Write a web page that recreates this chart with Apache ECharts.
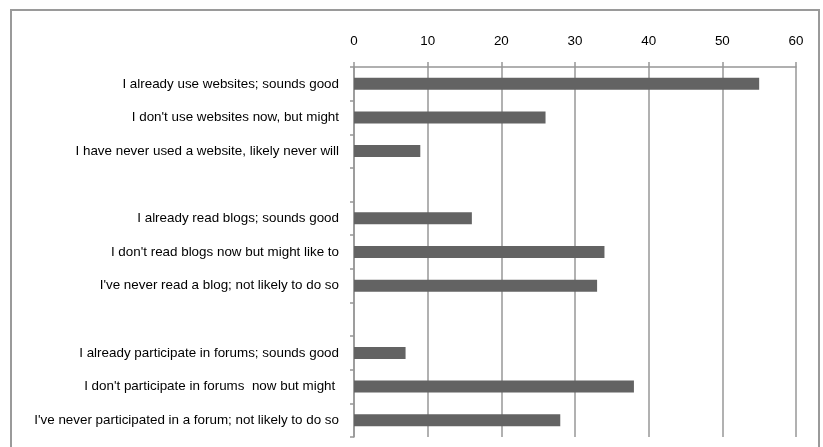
<!DOCTYPE html>
<html>
<head>
<meta charset="utf-8">
<script src="https://cdn.jsdelivr.net/npm/echarts@6/dist/echarts.min.js"></script>
<style>
  html, body { margin: 0; padding: 0; background: #fff; }
  #chart { width: 823px; height: 447px; }
</style>
</head>
<body>
<div id="chart"></div>
<script>
// survey answers, blank rows separate the three groups
const categories = [
    'I already use websites; sounds good',
    "I don't use websites now, but might",
    'I have never used a website, likely never will',
    ' ',
    'I already read blogs; sounds good',
    "I don't read blogs now but might like to",
    "I've never read a blog; not likely to do so",
    '  ',
    'I already participate in forums; sounds good',
    "I don't participate in forums  now but might ",
    "I've never participated in a forum; not likely to do so"
];
const values = [55, 26, 9, null, 16, 34, 33, null, 7, 38, 28];
const xTicks = { min: 0, max: 60, interval: 10 };

const fontFamily = '"Liberation Sans Narrow", "Liberation Sans", sans-serif';
const lineColor = '#979797';

let myChart = echarts.init(document.getElementById('chart'));
myChart.setOption({
    animation: false,
    textStyle: { fontFamily: fontFamily },
    graphic: [{
        type: 'rect',
        shape: { x: 11, y: 10, width: 808, height: 460 },
        style: { fill: 'none', stroke: '#9a9a9a', lineWidth: 2 },
        silent: true
    }],
    grid: { left: 354, right: 27, top: 67, bottom: 10, containLabel: false },
    xAxis: {
        type: 'value',
        position: 'top',
        min: xTicks.min,
        max: xTicks.max,
        interval: xTicks.interval,
        axisLine: { show: true, lineStyle: { color: lineColor, width: 1.5 } },
        axisTick: { show: true, inside: false, length: 5, lineStyle: { color: lineColor, width: 1.5 } },
        axisLabel: { color: '#000', fontSize: 13.4, margin: 19, fontFamily: fontFamily },
        splitLine: { show: true, lineStyle: { color: lineColor, width: 1.5 } }
    },
    yAxis: {
        type: 'category',
        data: categories,
        inverse: true,
        axisLine: { show: true, lineStyle: { color: lineColor, width: 1.5 } },
        axisTick: { show: true, length: 4, lineStyle: { color: lineColor, width: 1.5 } },
        axisLabel: { color: '#000', fontSize: 13.4, margin: 15, fontFamily: fontFamily, interval: 0 },
        splitLine: { show: false }
    },
    series: [{
        type: 'bar',
        data: values,
        barWidth: 12,
        itemStyle: { color: '#636363' }
    }]
});
</script>
</body>
</html>
